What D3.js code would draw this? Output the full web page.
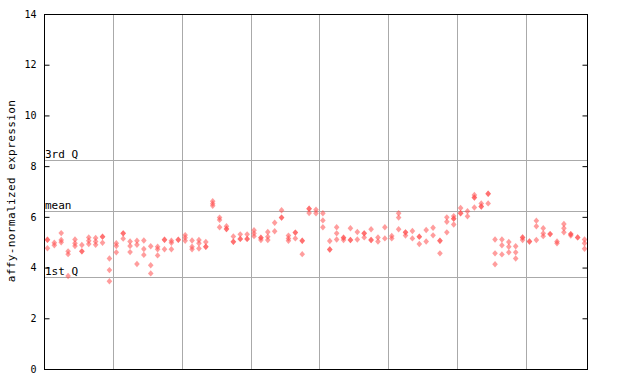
<!DOCTYPE html>
<html><head><meta charset="utf-8">
<script src="https://cdn.jsdelivr.net/npm/d3@7"></script>
<style>body{margin:0;background:#fff}svg{display:block}text{font-family:"DejaVu Sans Mono",monospace}</style>
</head><body><svg id="c" width="640" height="384"></svg>
<script>
const groupSizes = [10,10,10,10,10,10,10,9];
const yTicks = [0,2,4,6,8,10,12,14];
const refLabels = ["3rd Q","mean","1st Q"];
const refValues = [8.23,6.22,3.62];
const sampleValues = [
 [5.10,5.10,4.76],[4.98,4.88],[5.36,5.09,5.00],[4.64,4.53,3.67],[5.11,4.96,4.85],
 [4.89,4.64,4.64],[5.19,5.06,4.93],[5.17,5.03,4.90],[5.22,5.22,4.98],[4.36,3.90,3.46],
 [4.96,4.85,4.60],[5.35,5.35,5.14],[5.03,4.85,4.61],[5.06,4.90,4.14],[5.07,4.73,4.50],
 [4.84,4.09,3.77],[4.82,4.72,4.48],[5.10,5.10,4.72],[5.06,4.98,4.72],[5.10,5.10],
 [5.28,5.18,5.06],[5.07,4.82,4.72],[5.09,4.96,4.75],[5.01,4.82,4.82],[6.62,6.52,6.44],
 [5.97,5.88,5.59],[5.63,5.52,5.52],[5.23,5.02,5.02],[5.31,5.13,5.13],[5.31,5.13,5.13],
 [5.47,5.35,5.24],[5.18,5.18,5.09],[5.40,5.22,5.09],[5.77,5.43],[6.26,5.97,5.97],
 [5.26,5.15,5.06],[5.38,5.38,5.15],[5.06,5.06,4.53],[6.32,6.32,6.15],[6.28,6.14],
 [6.14,5.86,5.59],[5.05,4.71,4.71],[5.59,5.35,5.11],[5.18,5.18,5.09],[5.55,5.09,5.09],
 [5.40,5.11],[5.35,5.35,5.19],[5.51,5.09,5.09],[5.19,5.03],[5.59,5.15],
 [5.25,5.15],[6.14,5.97,5.51],[5.39,5.39,5.26],[5.44,5.15],[5.22,5.22,4.93],
 [5.48,5.03],[5.57,5.27],[5.06,5.06,4.56],[5.98,5.81,5.39],[6.03,5.93,5.93,5.70],
 [6.35,6.14,6.14],[6.22,6.02],[6.86,6.76,6.76,6.37],[6.53,6.41,6.41],[6.91,6.91,6.53],
 [5.11,4.56,4.13],[5.11,4.88,4.52],[5.01,4.82,4.60],[4.84,4.60,4.36],[5.19,5.19,5.09],
 [5.03,5.03],[5.85,5.63,5.09],[5.55,5.35,5.24],[5.32,5.32],[5.03,4.96],
 [5.72,5.55,5.39],[5.32,5.32,5.26],[5.19,5.19],[5.11,4.96,4.74]
];

const svg = d3.select("#c");
const L=44, R=588, T=14, B=369;
const nCols = d3.sum(groupSizes);
const x = d3.scaleBand().domain(d3.range(nCols)).range([L,R]).padding(0);
const y = d3.scaleLinear().domain([0,14]).range([B,T]);
const grey="#aaaaaa", red="#ff4d4d";

let acc=0; const bounds=[];
groupSizes.slice(0,-1).forEach(s=>{acc+=s; bounds.push(acc);});
svg.append("g").selectAll("line").data(bounds).join("line")
  .attr("x1",d=>Math.round(x(d))+0.5).attr("x2",d=>Math.round(x(d))+0.5)
  .attr("y1",T).attr("y2",B).attr("stroke",grey).attr("stroke-width",1);

svg.append("g").selectAll("line").data(refValues).join("line")
  .attr("x1",L).attr("x2",R)
  .attr("y1",d=>Math.round(y(d))+0.5).attr("y2",d=>Math.round(y(d))+0.5)
  .attr("stroke",grey).attr("stroke-width",1);
svg.append("g").selectAll("text").data(refValues).join("text")
  .attr("x",L+1).attr("y",d=>Math.round(y(d))-2)
  .attr("font-size",11).attr("fill","#000").text((d,i)=>refLabels[i]);

const pts=[];
sampleValues.forEach((arr,i)=>arr.forEach(v=>pts.push({i,v})));
svg.append("g").selectAll("path").data(pts).join("path")
  .attr("d",d=>{const cx=x(d.i)+x.bandwidth()/2, cy=y(d.v);
     return `M${cx},${cy-3.2}L${cx+2.8},${cy}L${cx},${cy+3.2}L${cx-2.8},${cy}Z`;})
  .attr("fill",red).attr("fill-opacity",0.55);

const yAxisL = d3.axisLeft(y).tickValues(yTicks).tickSize(-5).tickPadding(8).tickFormat(d3.format("d"));
const gl = svg.append("g").attr("transform",`translate(${L+0.5},0)`).call(yAxisL);
gl.selectAll("text").attr("font-size",10).attr("font-family","DejaVu Sans Mono").attr("fill","#000");
gl.select(".domain").remove();
gl.selectAll("line").attr("stroke","#000");
const yAxisR = d3.axisRight(y).tickValues(yTicks).tickSize(-5).tickFormat("");
const gr = svg.append("g").attr("transform",`translate(${R-0.5},0)`).call(yAxisR);
gr.select(".domain").remove();
gr.selectAll("line").attr("stroke","#000");
svg.append("rect").attr("x",L+0.5).attr("y",T+0.5).attr("width",R-L-1).attr("height",B-T)
  .attr("fill","none").attr("stroke","#000").attr("stroke-width",1);

svg.append("text").attr("transform",`translate(15,191) rotate(-90)`)
  .attr("text-anchor","middle").attr("font-size",11).attr("letter-spacing",0.4)
  .text("affy-normalized expression");
</script></body></html>
